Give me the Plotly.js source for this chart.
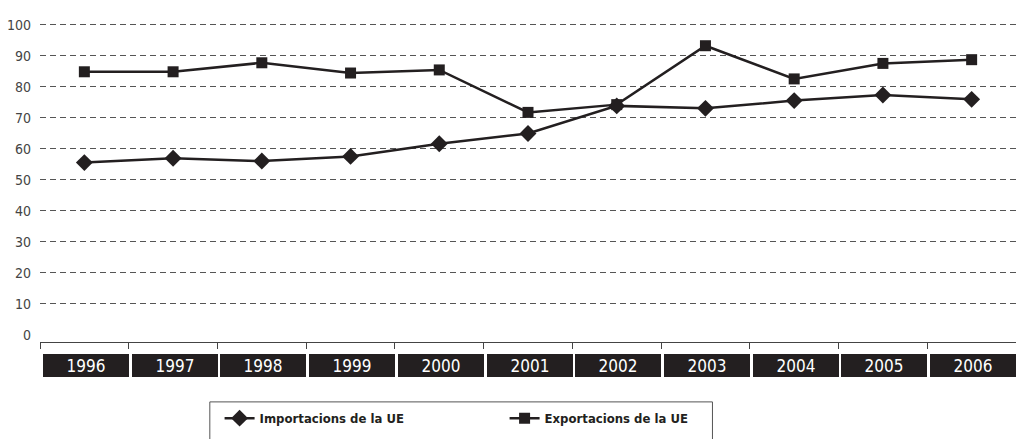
<!DOCTYPE html>
<html>
<head>
<meta charset="utf-8">
<script src="https://cdn.plot.ly/plotly-3.0.1.min.js"></script>
<style>html,body{margin:0;padding:0;background:#fff;}#chart{width:1016px;height:439px;}</style>
</head>
<body>
<div id="chart"></div>
<script>
var years = ['1996','1997','1998','1999','2000','2001','2002','2003','2004','2005','2006'];
var importacions = [55.6, 57.0, 56.1, 57.6, 61.7, 65.0, 73.9, 73.1, 75.6, 77.4, 76.0];
var exportacions = [84.9, 84.9, 87.8, 84.5, 85.5, 71.8, 74.3, 93.3, 82.6, 87.6, 88.8];
var gridTicks = [10, 20, 30, 40, 50, 60, 70, 80, 90, 100];
var zeroTick = [0];
var nameImp = 'Importacions de la UE';
var nameExp = 'Exportacions de la UE';

var FONT = '"DejaVu Sans Condensed", "Liberation Sans Narrow", sans-serif';
var INK = '#231f20';

var traces = [
  {x: years, y: importacions, name: nameImp, type: 'scatter', mode: 'lines+markers',
   line: {color: INK, width: 2.5}, marker: {symbol: 'diamond', size: 13, color: INK}},
  {x: years, y: exportacions, name: nameExp, type: 'scatter', mode: 'lines+markers',
   line: {color: INK, width: 2.5}, marker: {symbol: 'square', size: 11, color: INK}},
  {x: [years[0]], y: [0], yaxis: 'y2', type: 'scatter', mode: 'markers', showlegend: false,
   hoverinfo: 'skip', marker: {opacity: 0}}
];

var annotations = years.map(function (yr, i) {
  return {x: i, xref: 'x', y: 0, yref: 'paper', yanchor: 'middle', yshift: -23.5, xshift: 1.5,
    text: yr, showarrow: false, width: 86, height: 23, borderpad: 0, borderwidth: 0,
    bgcolor: INK, font: {family: FONT, size: 17, color: '#ffffff'}};
});

var layout = {
  width: 1016, height: 439,
  margin: {l: 40, r: 0, t: 20, b: 97},
  paper_bgcolor: '#ffffff', plot_bgcolor: '#ffffff',
  showlegend: true,
  xaxis: {type: 'category', range: [-0.5, 10.5], showticklabels: false, showgrid: false,
    showline: true, linecolor: '#444', linewidth: 1, ticks: 'outside', ticklen: 6,
    tickcolor: '#444', tickson: 'boundaries', zeroline: false, fixedrange: true},
  yaxis: {range: [-2.26, 101.6], tickmode: 'array', tickvals: gridTicks, showgrid: true,
    gridcolor: '#555', griddash: '6px,4px', gridwidth: 1, zeroline: false, showline: false,
    ticks: '', ticklabelstandoff: 8, tickfont: {family: FONT, size: 14, color: '#444'}},
  yaxis2: {range: [-2.26, 101.6], overlaying: 'y', side: 'left', tickmode: 'array',
    tickvals: zeroTick, showgrid: false, zeroline: false, showline: false, ticks: '',
    ticklabelstandoff: 8, tickfont: {family: FONT, size: 14, color: '#444'}},
  legend: {orientation: 'h', x: 0.184, xanchor: 'left', y: -0.19, yanchor: 'top',
    entrywidth: 240, entrywidthmode: 'pixels', itemwidth: 30, bgcolor: 'rgba(0,0,0,0)',
    font: {family: FONT, size: 13, color: INK, weight: 'bold'}},
  shapes: [{type: 'rect', xref: 'paper', yref: 'paper', x0: 0.174, x1: 0.689, y0: -0.186, y1: -0.4,
    line: {color: '#555', width: 1}, fillcolor: 'rgba(0,0,0,0)'}],
  annotations: annotations
};

Plotly.newPlot('chart', traces, layout, {displayModeBar: false, staticPlot: true});
</script>
</body>
</html>
